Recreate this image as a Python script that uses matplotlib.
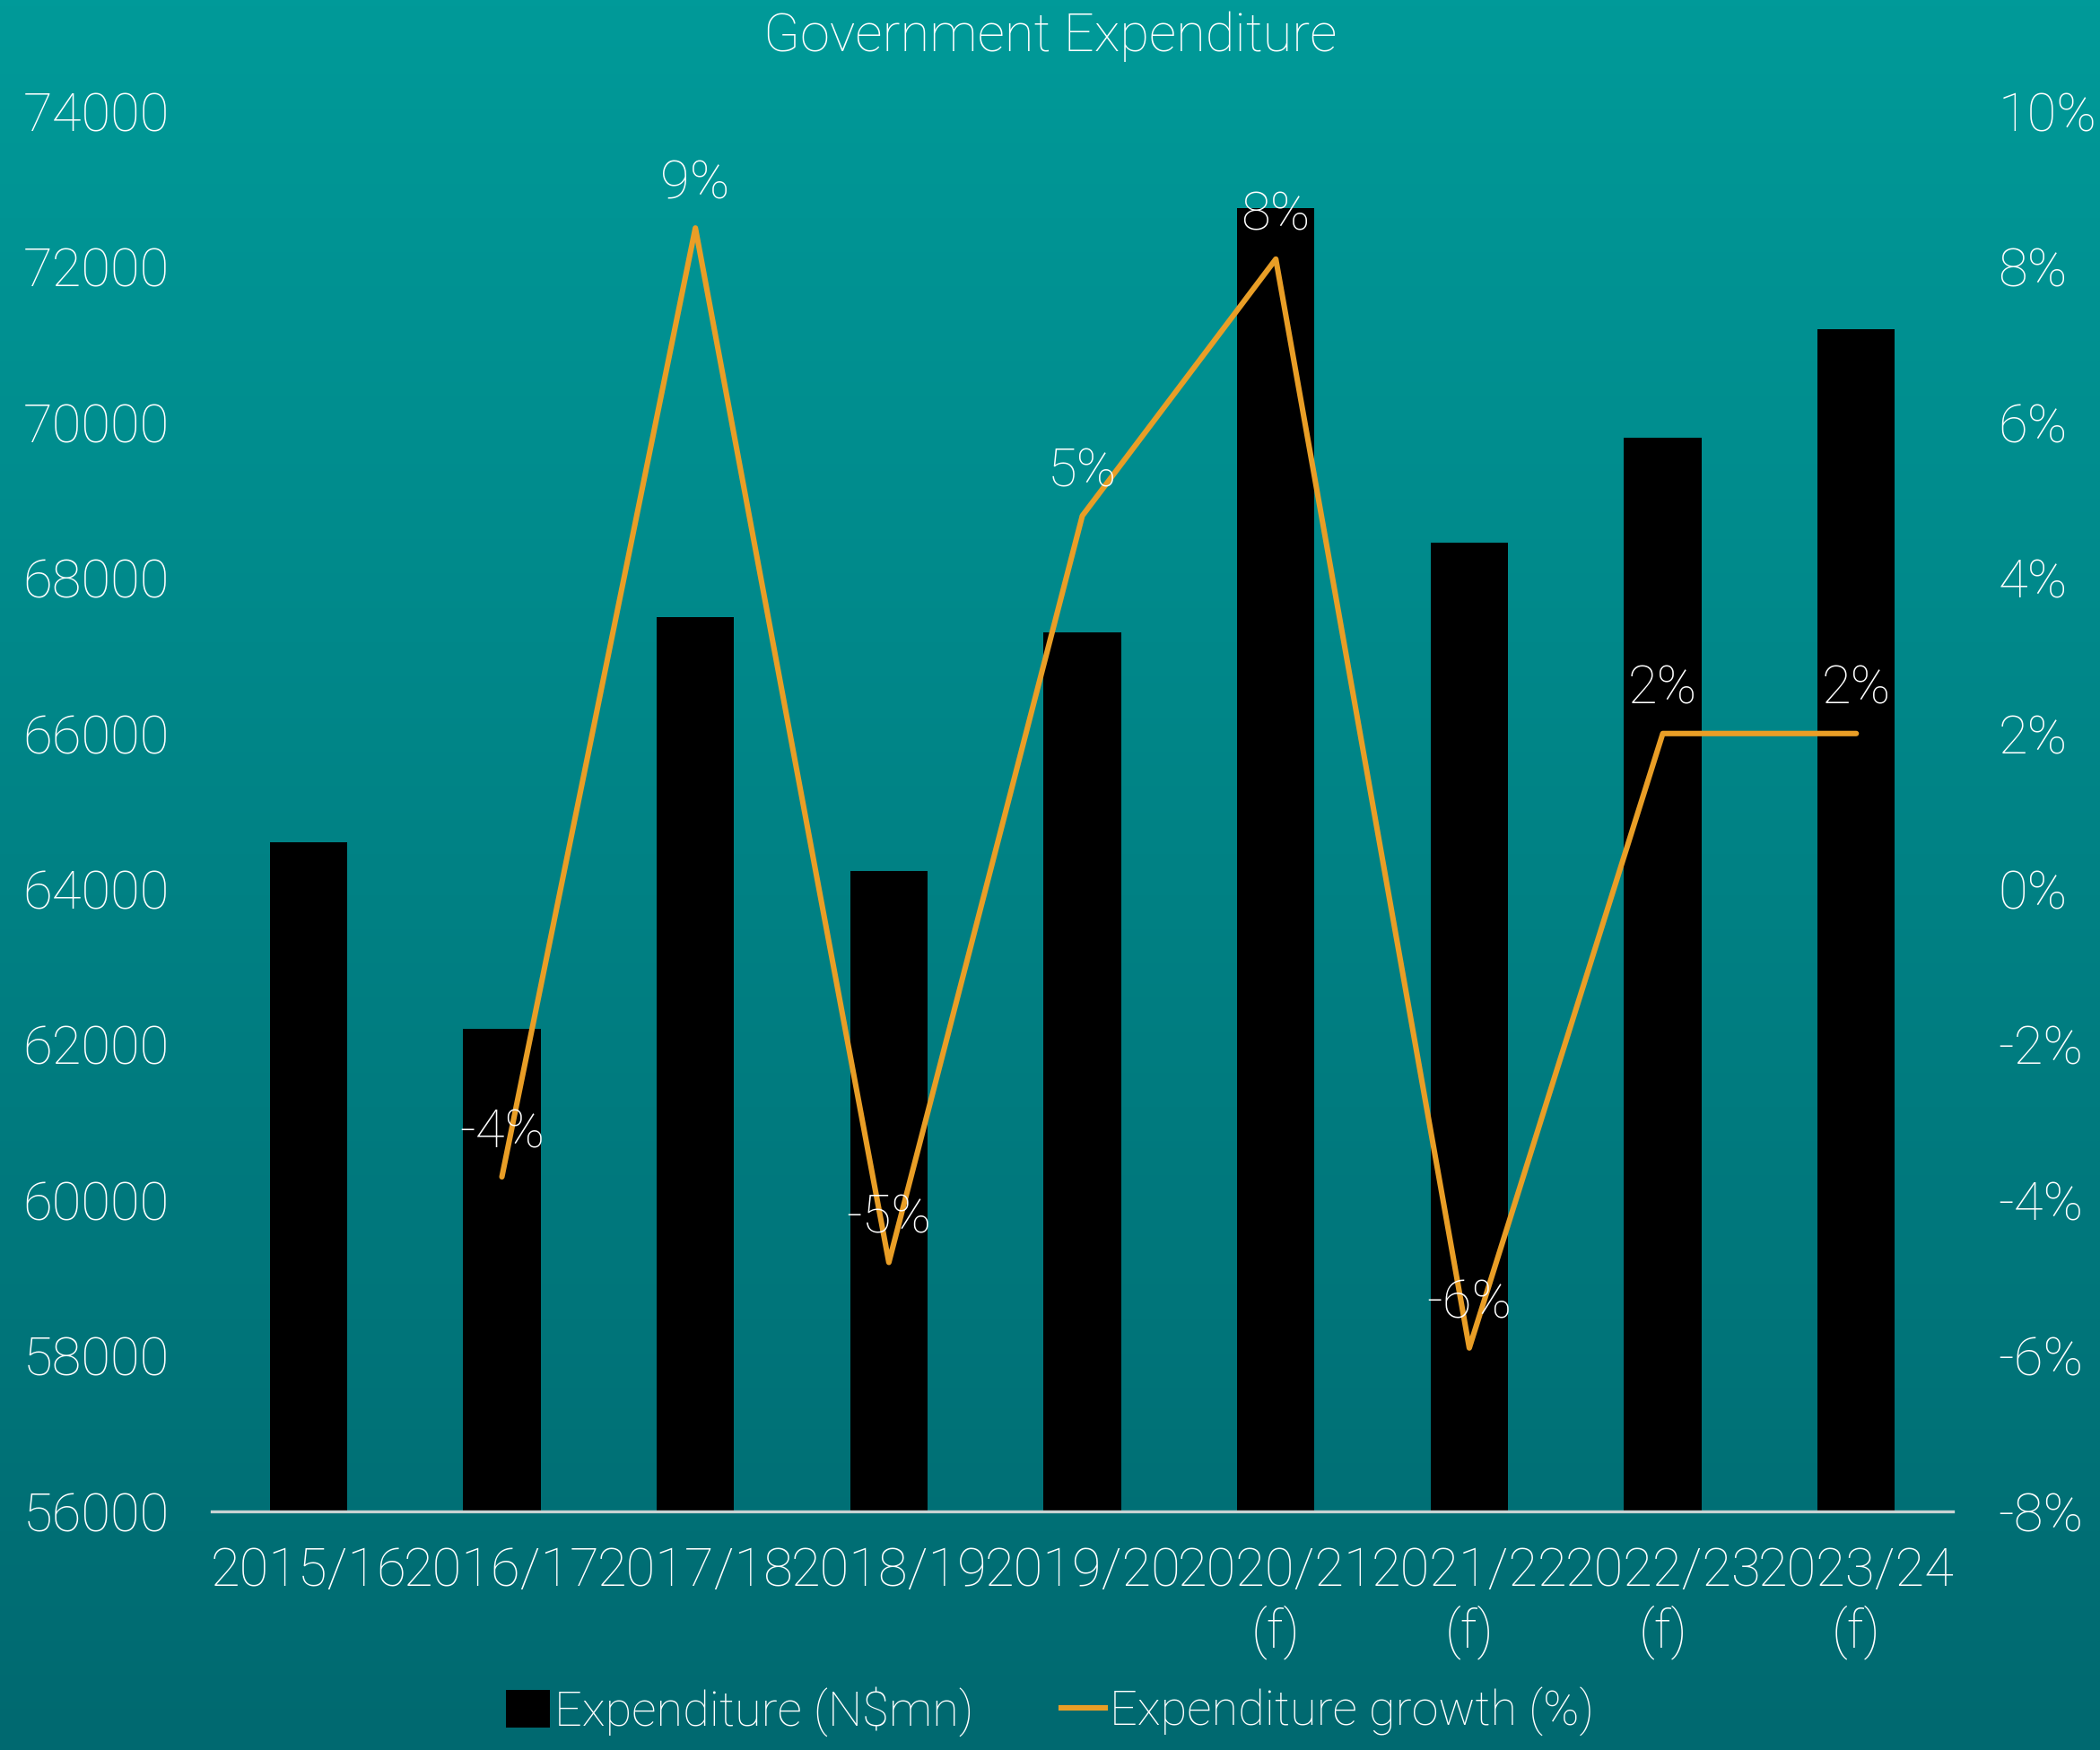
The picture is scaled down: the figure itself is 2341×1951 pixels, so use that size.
import numpy as np
import matplotlib
matplotlib.use("Agg")
import matplotlib.pyplot as plt
from matplotlib.patches import Patch
from matplotlib.lines import Line2D

plt.rcParams['font.family'] = ['Roboto', 'DejaVu Sans']
plt.rcParams['font.weight'] = 'light'

# fiscal years and values
years = ["2015/16", "2016/17", "2017/18", "2018/19", "2019/20",
         "2020/21\n(f)", "2021/22\n(f)", "2022/23\n(f)", "2023/24\n(f)"]
expenditure = [64600, 62200, 67500, 64230, 67300, 72750, 68450, 69800, 71200]
growth = [np.nan, -3.7, 8.5, -4.8, 4.8, 8.1, -5.9, 2.0, 2.0]
growth_labels = ["", "-4%", "9%", "-5%", "5%", "8%", "-6%", "2%", "2%"]

white = "white"
orange = "#E99E26"
fs = 21.5

fig = plt.figure(figsize=(11.705, 9.755), dpi=200)

# teal gradient backdrop
bg = fig.add_axes([0, 0, 1, 1], zorder=-10)
top_c = np.array([0, 154, 153]) / 255
bot_c = np.array([0, 105, 112]) / 255
t = np.linspace(0, 1, 256)[:, None, None]
grad = top_c * (1 - t) + bot_c * t
bg.imshow(grad, aspect="auto", extent=[0, 1, 0, 1])
bg.axis("off")

ax = fig.add_axes([0.1008, 0.1364, 0.8292, 0.80])
ax.patch.set_alpha(0)
x = np.arange(len(years))
ax.bar(x, expenditure, width=0.40, color="black", zorder=2)
ax.set_xlim(-0.5, len(years) - 0.5)
ax.set_ylim(56000, 74000)
ax.set_yticks(np.arange(56000, 74001, 2000))
ax.set_xticks(x)
ax.set_xticklabels(years, linespacing=1.2)
ax.tick_params(axis="both", length=0, colors=white, labelsize=fs)
ax.tick_params(axis="y", pad=17)
ax.tick_params(axis="x", pad=14)
for s in ["top", "left", "right"]:
    ax.spines[s].set_visible(False)
ax.spines["bottom"].set_color("#c9d3d3")
ax.spines["bottom"].set_linewidth(1.2)

ax2 = ax.twinx()
ax2.patch.set_alpha(0)
ax2.plot(x, growth, color=orange, lw=2.2, solid_capstyle="round",
         solid_joinstyle="round", zorder=3)
ax2.set_ylim(-8, 10)
ax2.set_yticks(np.arange(-8, 11, 2))
ax2.set_yticklabels([f"{v}%" for v in range(-8, 11, 2)])
ax2.tick_params(axis="y", length=0, colors=white, labelsize=fs, pad=18)
for s in ["top", "left", "right", "bottom"]:
    ax2.spines[s].set_visible(False)

for xi, g, lab in zip(x, growth, growth_labels):
    if lab:
        ax2.annotate(lab, (xi, g), xytext=(0, 7.5), textcoords="offset points",
                     ha="center", va="bottom", color=white, fontsize=fs)

fig.text(0.5, 0.979, "Government Expenditure", ha="center", va="center",
         color=white, fontsize=fs)

handles = [Patch(facecolor="black", edgecolor="none"),
           Line2D([0], [0], color=orange, lw=2.2)]
fig.legend(handles, ["Expenditure (N\\$mn)", "Expenditure growth (%)"],
           loc="center", bbox_to_anchor=(0.5, 0.022), ncol=2, frameon=False,
           fontsize=19.5, labelcolor=white, handlelength=0.9, handleheight=0.8,
           handletextpad=0.1, columnspacing=1.8)

fig.savefig("out.png", dpi=200)
